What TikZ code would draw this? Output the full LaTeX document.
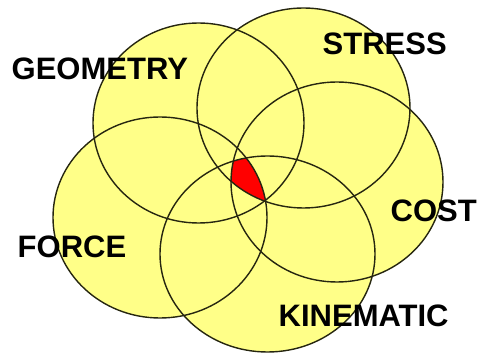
\documentclass[tikz,border=0pt]{standalone}
\usepackage{fontspec}
\usepackage{pdfrender}
\setmainfont{Liberation Sans}
\definecolor{pale}{HTML}{FFFF88}
\definecolor{edge}{HTML}{262610}
\tikzset{
  elG/.style={insert path={(198.5,123) ellipse [x radius=105.5pt, y radius=100pt]}},
  elS/.style={insert path={(303.5,108) ellipse [x radius=106.5pt, y radius=100pt]}},
  elC/.style={insert path={(337,182) ellipse [x radius=106pt, y radius=100pt]}},
  elK/.style={insert path={(267.5,254) ellipse [x radius=107.5pt, y radius=98pt]}},
  elF/.style={insert path={(160,217.5) ellipse [x radius=107pt, y radius=100.5pt]}},
  lbl/.style={inner sep=0pt, anchor=base west, font=\fontsize{31}{31}\bfseries\selectfont}
}
\newcommand{\heavy}[1]{\textpdfrender{TextRenderingMode=FillStroke,LineWidth=0.9pt,LineJoin=1}{#1}}
\begin{document}
\begin{tikzpicture}[x=1pt,y=-1pt]
\useasboundingbox (0,0) rectangle (480,355);
% fills
\foreach \e in {elG,elS,elC,elK,elF}{\fill[pale,\e];}
% common region
\begin{scope}
  \clip[elG]; \clip[elS]; \clip[elC]; \clip[elK];
  \fill[red,elF];
\end{scope}
% outlines
\foreach \e in {elG,elS,elC,elK,elF}{\draw[edge,line width=1.4pt,\e];}
% labels
\node[lbl] (geometry) at (11.5,80) {\heavy{GEOMETRY}};
\node[lbl] (stress) at (322.5,55) {\heavy{STRESS}};
\node[lbl] (cost) at (390.5,222) {\heavy{COST}};
\node[lbl] (force) at (17.5,258) {\heavy{FORCE}};
\node[lbl] (kinematic) at (278.5,327) {\heavy{KINEMATIC}};
\end{tikzpicture}
\end{document}
